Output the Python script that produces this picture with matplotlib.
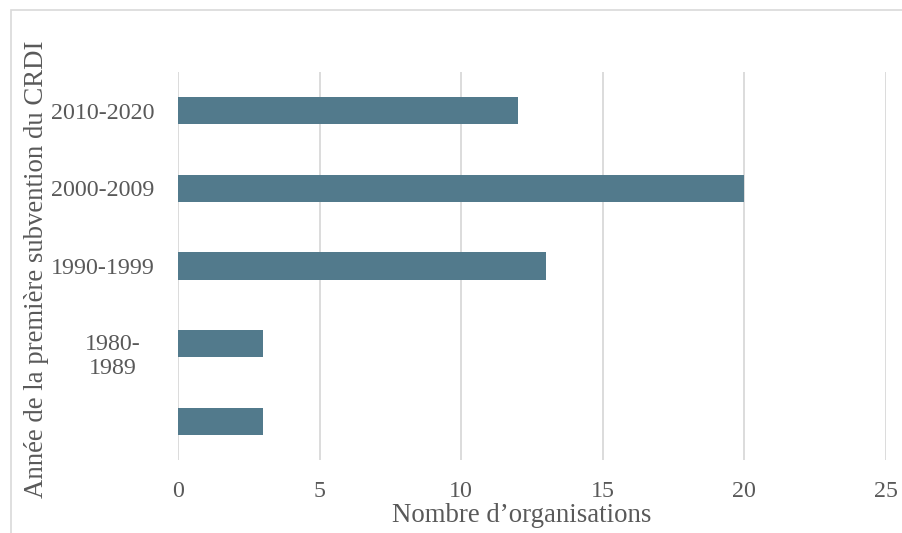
import matplotlib.pyplot as plt
from matplotlib.patches import Rectangle

# -- Data
categories = ['', '1980-\n1989', '1990-1999', '2000-2009', '2010-2020']
values = [3, 3, 13, 20, 12]
x_ticks = [0, 5, 10, 15, 20, 25]

bar_color = '#527a8c'
text_color = '#595959'
grid_color = '#d9d9d9'

plt.rcParams['font.family'] = ['Liberation Serif', 'DejaVu Serif']

fig = plt.figure(figsize=(9.03, 5.33), dpi=100)
# light frame of the chart area (cut at right and bottom)
fig.patches.append(Rectangle((11 / 903, -0.1), 1.2, 1 - 10 / 533 + 0.1,
                             transform=fig.transFigure, fill=False,
                             edgecolor='#d9d9d9', linewidth=1.2))

ax = fig.add_axes([178 / 903, 73 / 533, 708 / 903, 388 / 533])
ypos = list(range(len(categories)))
ax.barh(ypos, values, height=0.35, color=bar_color, zorder=3)

ax.set_xlim(0, 25)
ax.set_ylim(-0.5, len(categories) - 0.5)
ax.set_xticks(x_ticks)
ax.set_xticklabels([str(t) for t in x_ticks])
ax.set_yticks(ypos)
ax.set_yticklabels([c if '\n' not in c else '' for c in categories])
ax.grid(axis='x', color=grid_color, linewidth=1.3, zorder=0)
ax.tick_params(length=0, labelsize=17.3, labelcolor=text_color)
ax.tick_params(axis='y', pad=17)
ax.tick_params(axis='x', pad=15)
for s in ax.spines.values():
    s.set_visible(False)

# wrapped category label, centred like the original
for i, c in enumerate(categories):
    if '\n' in c:
        ax.text(-65 / 708, i - 0.17, c, transform=ax.get_yaxis_transform(),
                ha='center', va='center', multialignment='center',
                fontsize=17.3, color=text_color, linespacing=1.18)

fig.text(37 / 903, 0.5 - 3 / 533, 'Année de la première subvention du CRDI',
         rotation=90, ha='center', va='center', fontsize=19.3, color=text_color)
fig.text(522 / 903, 11 / 533, 'Nombre d\u2019organisations',
         ha='center', va='baseline', fontsize=19.3, color=text_color)

fig.savefig('out.png', dpi=100)
